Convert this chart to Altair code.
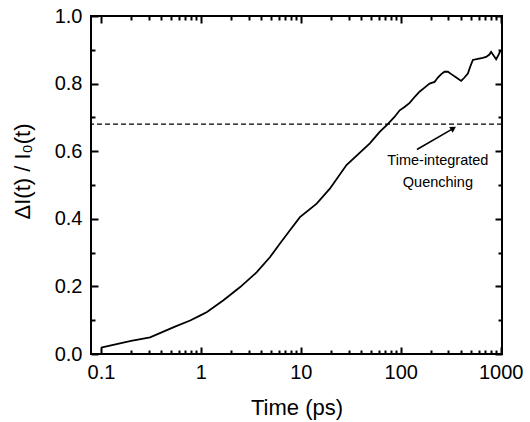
import altair as alt
import pandas as pd

# ---- data ----
time_ps = [0.1, 0.2, 0.31, 0.55, 0.78, 1.0, 1.15, 1.68, 2.47, 3.62, 4.92, 6.18, 7.78,
           9.79, 14.4, 19.5, 28.6, 49.0, 61.5, 74.5, 86.9, 97.5, 109, 122.7, 138, 154,
           173, 194, 218, 235, 254, 274, 296, 320, 359, 402, 434, 469, 495, 526, 590,
           661, 715, 771, 801, 900, 948, 1000]
delta_ratio = [0.019, 0.039, 0.049, 0.081, 0.099, 0.115, 0.124, 0.159, 0.198, 0.242,
               0.287, 0.327, 0.366, 0.405, 0.445, 0.489, 0.559, 0.623, 0.657, 0.681,
               0.702, 0.721, 0.731, 0.743, 0.761, 0.776, 0.788, 0.800, 0.805, 0.818,
               0.828, 0.835, 0.835, 0.828, 0.818, 0.808, 0.818, 0.830, 0.850, 0.870,
               0.873, 0.876, 0.879, 0.886, 0.894, 0.872, 0.884, 0.899]

quench_level = [0.68]
arrow_t = [145, 330]
arrow_v = [0.605, 0.666]
head_t = [330]
head_v = [0.666]
note_t = [235, 235]
note_v = [0.5585, 0.4933]
note_text = ["Time-integrated", "Quenching"]

x_major = [0.1, 1, 10, 100, 1000]
x_minor = [0.2, 0.3, 0.4, 0.5, 0.6, 0.7, 0.8, 0.9,
           2, 3, 4, 5, 6, 7, 8, 9,
           20, 30, 40, 50, 60, 70, 80, 90,
           200, 300, 400, 500, 600, 700, 800, 900]
y_major = [0.0, 0.2, 0.4, 0.6, 0.8, 1.0]
y_minor = [0.1, 0.3, 0.5, 0.7, 0.9]

W, H = 411, 338
FONT = "Liberation Sans"
MAJ, MIN = 7, 4

xs = alt.Scale(type="log", domain=[0.0794, 1030], nice=False)
ys = alt.Scale(domain=[0, 1], nice=False, zero=False)

tick_style = dict(domain=False, grid=False, tickColor="#000000", tickWidth=2, tickOpacity=1)


def tick_axis(orient, values, size):
    return alt.Axis(orient=orient, values=values, tickSize=size, offset=-size,
                    labels=False, title="", **tick_style)


# main (labelled) axes: bottom and left, major ticks pointing inward
x_main = alt.Axis(
    orient="bottom", values=x_major, format="~g", title="Time (ps)",
    tickSize=MAJ, offset=-MAJ, labelFontSize=20, labelPadding=8, labelColor="black",
    labelFont=FONT, titleFont=FONT, titleFontSize=22, titleFontWeight="normal",
    titleColor="black", titleX=205.5, titleY=60 + MAJ, titleAlign="center",
    titleBaseline="alphabetic", labelFlush=False, **tick_style)
y_main = alt.Axis(
    orient="left", values=y_major, format=".1f", title="ΔI(t) / I₀(t)",
    tickSize=MAJ, offset=-MAJ, labelFontSize=20, labelPadding=9, labelColor="black",
    labelFont=FONT, titleFont=FONT, titleFontSize=22, titleFontWeight="normal",
    titleColor="black", titleX=-69 - MAJ, titleY=155, titleAngle=-90,
    titleAlign="center", titleBaseline="middle", labelFlush=False, **tick_style)

# plot frame
frame = alt.Chart(pd.DataFrame({"k": [0]})).mark_rect(
    filled=False, stroke="black", strokeWidth=2, fill="transparent").encode(
    x=alt.value(0), x2=alt.value(W), y=alt.value(0), y2=alt.value(H))

curve_df = pd.DataFrame({"t": time_ps, "v": delta_ratio})
curve = alt.Chart(curve_df).mark_line(color="black", strokeWidth=1.8).encode(
    x=alt.X("t:Q", scale=xs, axis=x_main),
    y=alt.Y("v:Q", scale=ys, axis=y_main))

dash = alt.Chart(pd.DataFrame({"v": quench_level})).mark_rule(
    color="black", strokeWidth=1.4, strokeDash=[5, 3]).encode(
    y=alt.Y("v:Q", scale=ys, axis=tick_axis("left", y_minor, MIN)))

arrow = alt.Chart(pd.DataFrame({"t": arrow_t, "v": arrow_v})).mark_line(
    color="black", strokeWidth=1.5).encode(
    x=alt.X("t:Q", scale=xs, axis=tick_axis("bottom", x_minor, MIN)),
    y=alt.Y("v:Q", scale=ys, axis=tick_axis("right", y_major, MAJ)))

head = alt.Chart(pd.DataFrame({"t": head_t, "v": head_v})).mark_point(
    shape="triangle", filled=True, size=45, angle=58, color="black", opacity=1).encode(
    x=alt.X("t:Q", scale=xs, axis=tick_axis("top", x_major, MAJ)),
    y=alt.Y("v:Q", scale=ys, axis=tick_axis("right", y_minor, MIN)))

note = alt.Chart(pd.DataFrame({"t": note_t, "v": note_v, "txt": note_text})).mark_text(
    font=FONT, fontSize=14.5, color="black", align="center", baseline="alphabetic").encode(
    x=alt.X("t:Q", scale=xs, axis=tick_axis("top", x_minor, MIN)),
    y=alt.Y("v:Q", scale=ys, axis=None),
    text="txt:N")

chart = alt.layer(curve, dash, arrow, head, note, frame).resolve_axis(
    x="independent", y="independent"
).properties(
    width=W, height=H,
    autosize=alt.AutoSizeParams(type="none"),
    padding={"left": 91, "top": 16, "right": 28, "bottom": 68},
)

chart.save("out.html", embed_options={"renderer": "svg", "actions": False})
